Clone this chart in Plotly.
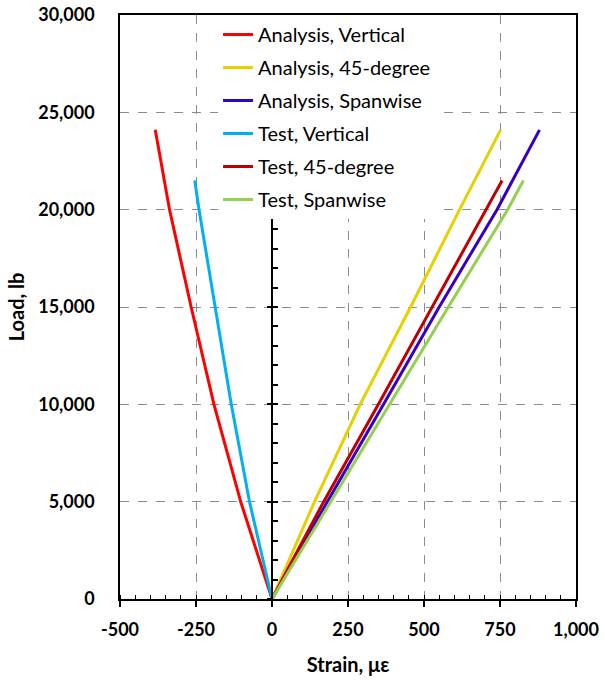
import plotly.graph_objects as go

# Load levels (lb) at which strains were sampled
analysis_load = [0, 5000, 10000, 15000, 20000, 24100]
test_load = [0, 5000, 10000, 15000, 20000, 21500]

# Strain readings (microstrain)
analysis_vertical = [0, -103, -191, -266, -337, -384]
analysis_45 = [0, 140, 290, 456, 617, 752]
analysis_spanwise = [0, 182, 367, 550, 740, 880]
test_vertical = [0, -74, -134, -188, -240, -254]
test_45 = [0, 170, 350, 527, 706, 757]
test_spanwise = [0, 193, 386, 580, 775, 827]

series = [
    ("Analysis, Vertical", analysis_vertical, analysis_load, "#ff0000"),
    ("Analysis, 45-degree", analysis_45, analysis_load, "#e8cf00"),
    ("Analysis, Spanwise", analysis_spanwise, analysis_load, "#3300c8"),
    ("Test, Vertical", test_vertical, test_load, "#00b0f0"),
    ("Test, 45-degree", test_45, test_load, "#c00000"),
    ("Test, Spanwise", test_spanwise, test_load, "#92d050"),
]

x_range = [-500, 1000]
y_range = [0, 30000]

fig = go.Figure()
for i, (name, xs, ys, color) in enumerate(series):
    fig.add_trace(go.Scatter(
        x=xs, y=ys, mode="lines", name=name,
        line=dict(color=color, width=3),
        legendgroup=f"g{i}",
    ))

# Vertical axis through zero strain, with its own tick marks
zero_pos = (0 - x_range[0]) / (x_range[1] - x_range[0])
fig.add_trace(go.Scatter(x=[0], y=[0], yaxis="y2", mode="markers",
                         marker=dict(opacity=0), showlegend=False, hoverinfo="skip"))
fig.add_trace(go.Scatter(x=[0], y=[0], yaxis="y3", mode="markers",
                         marker=dict(opacity=0), showlegend=False, hoverinfo="skip"))

tick_font = dict(family="Lato", size=18, color="#000000", weight="bold")
grid_color = "#8c8c8c"

fig.update_layout(
    width=605, height=681,
    margin=dict(l=120, r=29, t=15, b=82),
    paper_bgcolor="white", plot_bgcolor="white",
    font=dict(family="Lato", color="#000000"),
    showlegend=True,
    legend=dict(
        x=0.215, y=1.0, xanchor="left", yanchor="top",
        bgcolor="white", borderwidth=0,
        font=dict(family="Lato", size=20, color="#000000"),
        tracegroupgap=4, itemwidth=30,
    ),
    xaxis=dict(
        range=x_range, tickvals=[-500, -250, 0, 250, 500, 750, 1000],
        ticktext=["-500", "-250", "0", "250", "500", "750", "1,000"],
        showline=True, linecolor="black", linewidth=1.5, mirror=True,
        ticks="outside", ticklen=6, tickcolor="black", tickwidth=1.5,
        ticklabelstandoff=8,
        minor=dict(dtick=50, tick0=0, ticks="inside", ticklen=4,
                   tickcolor="black", tickwidth=1, showgrid=False),
        showgrid=True, gridcolor=grid_color, griddash="dash", gridwidth=1,
        zeroline=False, tickfont=tick_font, automargin=False,
        title=dict(text="<b>Strain, \u03bc\u03b5</b>", font=dict(family="Lato", size=20),
                   standoff=19),
    ),
    yaxis=dict(
        range=y_range, tickvals=[0, 5000, 10000, 15000, 20000, 25000, 30000],
        ticktext=["0", "5,000", "10,000", "15,000", "20,000", "25,000", "30,000"],
        showline=True, linecolor="black", linewidth=1.5, mirror=True,
        ticks="", ticklabelstandoff=20,
        showgrid=True, gridcolor=grid_color, griddash="dash", gridwidth=1,
        zeroline=False, tickfont=tick_font, automargin=False,
        title=dict(text="<b>Load, lb</b>", font=dict(family="Lato", size=20),
                   standoff=8),
    ),
    yaxis2=dict(
        range=y_range, overlaying="y", anchor="free", position=zero_pos,
        side="left", showline=True, linecolor="black", linewidth=1.5,
        ticks="inside", ticklen=5, tickcolor="black", tickwidth=1.5,
        dtick=1000, tick0=0, showticklabels=False, showgrid=False, zeroline=False,
        automargin=False,
    ),
    yaxis3=dict(
        range=y_range, overlaying="y", anchor="free", position=zero_pos,
        side="left", showline=False,
        ticks="outside", ticklen=5, tickcolor="black", tickwidth=1.5,
        dtick=5000, tick0=0, showticklabels=False, showgrid=False, zeroline=False,
        automargin=False,
    ),
)

fig.write_html("out.html")
